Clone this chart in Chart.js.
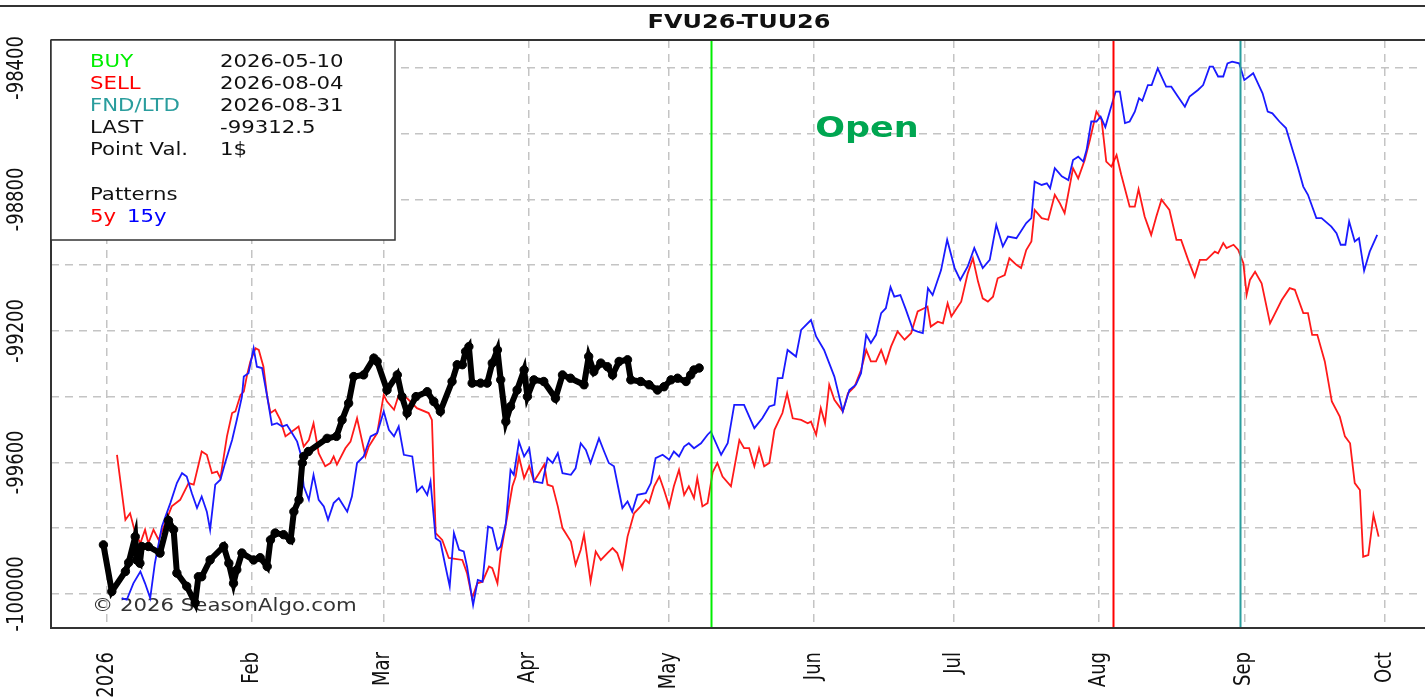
<!DOCTYPE html>
<html>
<head>
<meta charset="utf-8">
<script src="https://cdn.jsdelivr.net/npm/chart.js@4"></script>
<style>
  html, body { margin: 0; padding: 0; background: #fff; }
  #wrap { width: 1425px; height: 699px; }
</style>
</head>
<body>
<div id="wrap"><canvas id="seasonChart" width="1425" height="699"></canvas></div>
<script>
// x values are days counted from 2026-01-01
const monthDays = [0, 31, 59, 90, 120, 151, 181, 212, 243, 273];
const monthLabels = ['2026', 'Feb', 'Mar', 'Apr', 'May', 'Jun', 'Jul', 'Aug', 'Sep', 'Oct'];
const yTickValues = [-100000, -99800, -99600, -99400, -99200, -99000, -98800, -98600, -98400];

const eventDays = [129, 215, 242];           // BUY 05-10, SELL 08-04, FND/LTD 08-31
const eventColors = ['#00ee00', '#ff0000', '#2a9d9d'];

const infoLabels = ['BUY', 'SELL', 'FND/LTD', 'LAST', 'Point Val.'];
const infoValues = ['2026-05-10', '2026-08-04', '2026-08-31', '-99312.5', '1$'];

// current year (black)
const curDays = [-0.8, 1, 3.9, 4.6, 6, 6.3, 7, 7.4, 8.8, 11.3, 13.1, 14.2, 14.9, 17, 18.8, 19.5, 20.2, 22, 24.9, 26,
  27, 27.7, 28.8, 31.3, 32.7, 34.2, 34.9, 35.9, 37.7, 39.2, 39.9, 41, 41.7, 42, 43, 47, 49, 50.2, 51.6, 52.7,
  54.8, 57, 57.7, 59.8, 62, 63, 64.1, 66, 68.4, 69.8, 71.2, 73.7, 74.8, 75.9, 76.6, 77.3, 78, 79.8, 81.2, 82.3,
  83.4, 84.1, 85.2, 86.2, 87.6, 89.1, 89.8, 91.2, 93.3, 95.8, 97.3, 99, 101.9, 102.9, 104, 105.5, 106.9, 108, 109.4, 111.2,
  111.9, 114, 115.8, 117.6, 119, 120.5, 121.9, 123.7, 124.7, 125.4, 126.5];
const curValues = [-99851, -99993, -99932, -99905, -99826, -99897, -99907, -99856, -99856, -99876, -99777, -99805, -99937, -99977, -100028, -99948, -99948, -99897, -99856, -99907,
  -99968, -99927, -99876, -99897, -99890, -99917, -99836, -99815, -99820, -99836, -99750, -99714, -99602, -99582, -99567, -99527, -99521, -99471, -99420, -99339,
  -99334, -99283, -99293, -99380, -99334, -99400, -99450, -99400, -99385, -99415, -99445, -99354, -99303, -99303, -99263, -99248, -99359, -99359, -99359, -99298,
  -99258, -99349, -99476, -99430, -99380, -99319, -99400, -99349, -99354, -99405, -99334, -99344, -99364, -99278, -99324, -99298, -99309, -99334, -99293, -99288,
  -99349, -99354, -99364, -99380, -99370, -99349, -99344, -99354, -99334, -99319, -99313];

// 5y pattern (red)
const p5Days = [2.1, 3.9, 4.9, 6, 7.1, 8.1, 8.8, 9.9, 11, 12.4, 13.8, 15.6, 17.4, 18.5, 20.2, 21.3, 22.4, 23.5, 24.2, 25.6,
  26.7, 27.4, 28.5, 29.2, 29.9, 30.6, 31.7, 32.4, 33.4, 34.2, 34.9, 35.9, 37, 38.1, 39.5, 40.9, 42, 43.1, 44.1, 45.2,
  46.6, 47.7, 48.4, 49.1, 50.9, 52, 53.4, 55.2, 55.9, 57.7, 59.1, 59.8, 61.3, 62.3, 64.1, 66.2, 68.7, 69.4, 70.2, 71.6,
  73, 75.9, 76.9, 78, 79.1, 80.2, 81.6, 82.3, 83.4, 84.1, 85.5, 86.6, 87.3, 88, 89.1, 90.2, 91.2, 92.3, 93.4, 94.1,
  95.2, 96.3, 97.3, 99.1, 100.1, 101.2, 101.9, 103.3, 104.4, 105.5, 106.9, 108, 109, 110.1, 111.2, 112.6, 114, 115.1, 115.8, 116.9,
  118, 119, 120.1, 121.1, 122.2, 123.3, 124.3, 125.4, 126.1, 127.2, 128.3, 129.4, 130.4, 131.5, 133.3, 135.1, 136.1, 137.2, 138.3, 139.3,
  140.4, 141.5, 142.6, 144.3, 145.3, 146.5, 148.3, 149.7, 150.4, 151.5, 152.5, 153.4, 154.3, 155.4, 157.2, 158.3, 159.7, 161.1, 162.2, 163.2,
  164.3, 165.4, 166.4, 167.5, 168.9, 170.4, 171.8, 173.2, 174.6, 175.3, 176, 177.5, 178.6, 179.6, 180.4, 181.8, 182.5, 183.9, 185, 186.1,
  187.1, 188.2, 189.3, 190.3, 191.8, 192.8, 194.3, 195.3, 196.4, 197.5, 198.2, 199.7, 201.1, 202.5, 203.6, 204.6, 206.4, 207.5, 208.9, 210,
  211.4, 212.5, 213.5, 214.6, 215.7, 216.7, 218.5, 219.6, 220.4, 221.7, 223.1, 224.2, 225.3, 227, 228.5, 229.5, 231, 232.4, 233.5, 234.9,
  236.7, 237.4, 238.5, 239.2, 240.7, 241.7, 242.8, 243.5, 244.2, 245.3, 246.7, 248.5, 251, 252.7, 253.8, 255.6, 256.6, 257.5, 258.6, 260.2,
  261.7, 263.4, 264.5, 265.6, 266.6, 267.7, 268.4, 269.5, 270.6, 271.7];
const p5Values = [-99577, -99775, -99755, -99815, -99846, -99805, -99846, -99805, -99836, -99785, -99734, -99714, -99663, -99668, -99567, -99577, -99633, -99628, -99648, -99521,
  -99450, -99445, -99395, -99385, -99334, -99293, -99253, -99258, -99309, -99400, -99450, -99440, -99471, -99521, -99506, -99491, -99552, -99532, -99481, -99572,
  -99612, -99602, -99582, -99607, -99557, -99537, -99466, -99582, -99552, -99511, -99395, -99415, -99440, -99395, -99405, -99435, -99450, -99471, -99815, -99836,
  -99891, -99897, -99937, -100013, -99968, -99963, -99917, -99922, -99968, -99876, -99764, -99673, -99643, -99582, -99648, -99612, -99658, -99633, -99607, -99668,
  -99673, -99734, -99800, -99841, -99912, -99866, -99820, -99963, -99871, -99897, -99876, -99861, -99876, -99922, -99826, -99755, -99734, -99714, -99724, -99673,
  -99643, -99684, -99734, -99673, -99623, -99699, -99673, -99709, -99648, -99734, -99724, -99630, -99602, -99643, -99673, -99532, -99557, -99557, -99612, -99557,
  -99612, -99602, -99501, -99450, -99390, -99466, -99471, -99481, -99476, -99516, -99435, -99481, -99364, -99410, -99445, -99390, -99370, -99319, -99258, -99293,
  -99293, -99258, -99298, -99248, -99202, -99227, -99207, -99141, -99131, -99126, -99187, -99172, -99177, -99116, -99156, -99126, -99111, -99025, -98979, -99050,
  -99101, -99111, -99096, -99040, -99030, -98979, -98999, -99009, -98954, -98928, -98832, -98857, -98862, -98786, -98812, -98842, -98705, -98736, -98680, -98619,
  -98533, -98558, -98685, -98700, -98665, -98725, -98822, -98822, -98769, -98852, -98908, -98852, -98801, -98832, -98923, -98923, -98984, -99035, -98984, -98984,
  -98959, -98964, -98933, -98948, -98938, -98954, -98994, -99090, -99045, -99020, -99055, -99177, -99106, -99070, -99075, -99146, -99146, -99212, -99212, -99293,
  -99415, -99461, -99521, -99542, -99663, -99684, -99887, -99882, -99760, -99826];

// 15y pattern (blue)
const p15Days = [3.1, 4.2, 5.6, 7.1, 8.1, 9.2, 10.2, 11.7, 13.5, 14.9, 16, 17, 18.1, 19.2, 20.2, 21.3, 22, 23.1, 24.2, 25.2,
  26.7, 27.7, 28.8, 29.2, 30.2, 31.3, 32, 33.1, 34.2, 35.2, 36.3, 37.4, 38.4, 39.5, 40.6, 41.3, 42, 43.1, 44.1, 45.2,
  46.3, 47.2, 48.4, 49.5, 51.3, 52.3, 53.4, 54.8, 56.3, 57.7, 59.1, 60.2, 61.3, 62.3, 63.4, 65.2, 66.2, 67.3, 68.4, 69.1,
  70.2, 71.2, 72.3, 73.2, 74.1, 75.2, 76.2, 76.9, 78.2, 79.2, 80.2, 81.4, 82.3, 83.4, 84.1, 85.2, 86.2, 86.9, 88, 89.1,
  90.2, 91.2, 93, 94.1, 95.2, 96.3, 97.3, 99.1, 100.1, 101.2, 102.3, 103.3, 105.1, 106.2, 107.2, 108.3, 110.1, 111.2, 112.2, 113.3,
  115.1, 116.2, 117.2, 118.7, 120.1, 121.1, 122.2, 123.3, 124.3, 125.4, 126.9, 128.3, 129, 131.2, 132.6, 134, 136.1, 138.3, 140, 141.5,
  142.6, 143.3, 144.3, 145.4, 147.2, 148.3, 150.4, 151.5, 153.2, 155.4, 157.2, 158.6, 160, 161.1, 162.2, 163.2, 164.3, 165.4, 166.4, 167.4,
  168.2, 169.5, 170.7, 172.2, 173.2, 174.3, 175.4, 176.4, 178.2, 179.5, 181.1, 182.3, 183.9, 185.3, 187.1, 188.6, 190, 191.4, 192.5, 194.3,
  196.4, 197.5, 198.2, 199.7, 200.8, 201.5, 202.5, 204, 205.4, 206.4, 207.5, 208.6, 209.3, 210.3, 211.4, 212.3, 213.3, 214.4, 215.5, 216.4,
  217.5, 218.5, 219.6, 220.5, 221.2, 222.4, 223.2, 224.5, 226.3, 227.4, 228.8, 230.3, 231.3, 233.1, 234.2, 235.6, 236.3, 237.4, 238.5, 239.4,
  240.4, 241.9, 243, 244.9, 246.9, 248, 249, 250.5, 251.9, 253.3, 254.4, 255.6, 256.6, 258.4, 259.5, 261.6, 262.7, 263.6, 264.6, 265.4,
  266.6, 267.5, 268.6, 269.8, 271.4];
const p15Values = [-100013, -100018, -99968, -99932, -99968, -100013, -99907, -99795, -99724, -99663, -99633, -99643, -99694, -99739, -99704, -99750, -99805, -99668, -99653, -99602,
  -99532, -99471, -99400, -99339, -99329, -99253, -99309, -99313, -99400, -99486, -99481, -99491, -99486, -99511, -99537, -99572, -99673, -99714, -99638, -99714,
  -99734, -99775, -99724, -99709, -99750, -99704, -99602, -99582, -99521, -99511, -99445, -99501, -99521, -99491, -99577, -99582, -99689, -99673, -99699, -99658,
  -99831, -99841, -99917, -99977, -99815, -99866, -99871, -99917, -100034, -99958, -99963, -99795, -99800, -99866, -99856, -99785, -99623, -99638, -99537, -99582,
  -99557, -99658, -99663, -99587, -99602, -99572, -99633, -99638, -99618, -99542, -99562, -99602, -99527, -99567, -99602, -99612, -99739, -99719, -99750, -99699,
  -99694, -99663, -99587, -99577, -99592, -99567, -99582, -99552, -99542, -99557, -99542, -99516, -99506, -99577, -99542, -99425, -99425, -99496, -99466, -99430,
  -99425, -99344, -99344, -99258, -99278, -99197, -99167, -99217, -99258, -99339, -99445, -99380, -99364, -99329, -99212, -99237, -99212, -99146, -99131, -99067,
  -99096, -99091, -99136, -99197, -99202, -99207, -99070, -99091, -99015, -98923, -99009, -99045, -99004, -98948, -99009, -98984, -98877, -98943, -98913, -98918,
  -98872, -98857, -98746, -98756, -98751, -98766, -98705, -98730, -98741, -98680, -98670, -98685, -98649, -98563, -98563, -98548, -98580, -98525, -98472, -98472,
  -98568, -98563, -98533, -98492, -98500, -98452, -98452, -98401, -98457, -98457, -98487, -98518, -98487, -98467, -98452, -98396, -98396, -98426, -98426, -98386,
  -98381, -98386, -98437, -98416, -98477, -98533, -98538, -98563, -98583, -98649, -98700, -98761, -98786, -98857, -98857, -98883, -98903, -98938, -98938, -98867,
  -98928, -98918, -99017, -98959, -98908];

const toPoints = (xs, ys) => xs.map((d, i) => ({ x: d, y: ys[i] }));

const FONT = 'DejaVu Sans';
const STRETCH = 1.25;   // reference text is widened horizontally

function wideText(ctx, text, x, y, opts) {
  ctx.save();
  ctx.translate(x, y);
  ctx.scale(opts.stretch || STRETCH, 1);
  if (opts.rotate) ctx.rotate(-Math.PI / 2);
  ctx.font = opts.font;
  ctx.fillStyle = opts.color || '#111';
  ctx.textAlign = opts.align || 'left';
  ctx.textBaseline = opts.baseline || 'middle';
  ctx.fillText(text, 0, 0);
  ctx.restore();
}

const decorations = {
  id: 'decorations',
  beforeDraw(chart) {
    const ctx = chart.ctx;
    ctx.save();
    ctx.fillStyle = '#fff';
    ctx.fillRect(0, 0, chart.width, chart.height);
    ctx.restore();
  },
  beforeDatasetsDraw(chart) {
    const ctx = chart.ctx;
    wideText(ctx, '\u00a9 2026 SeasonAlgo.com', 92, 607, { font: '17px ' + FONT, color: '#333' });
  },
  afterDatasetsDraw(chart) {
    const ctx = chart.ctx;
    const area = chart.chartArea;
    const xs = chart.scales.x, ys = chart.scales.y;

    // buy / sell / fnd vertical markers
    eventDays.forEach((d, i) => {
      const px = Math.round(xs.getPixelForValue(d)) + 0.5;
      ctx.save();
      ctx.strokeStyle = eventColors[i];
      ctx.lineWidth = 2;
      ctx.beginPath();
      ctx.moveTo(px, area.top);
      ctx.lineTo(px, area.bottom);
      ctx.stroke();
      ctx.restore();
    });

    // plot frame + outer top line
    ctx.save();
    ctx.strokeStyle = '#333';
    ctx.lineWidth = 2;
    ctx.beginPath();
    ctx.moveTo(area.left, area.top);
    ctx.lineTo(chart.width + 5, area.top);
    ctx.moveTo(area.left, area.top);
    ctx.lineTo(area.left, area.bottom);
    ctx.lineTo(chart.width + 5, area.bottom);
    ctx.moveTo(0, 6);
    ctx.lineTo(chart.width, 6);
    ctx.stroke();
    ctx.restore();

    // axis labels
    yTickValues.forEach(v => {
      if (v % 400 !== 0) return;
      wideText(ctx, String(v), 17, ys.getPixelForValue(v), { font: '18px ' + FONT, rotate: true, align: 'center' });
    });
    monthDays.forEach((d, i) => {
      wideText(ctx, monthLabels[i], xs.getPixelForValue(d), 652, { font: '18px ' + FONT, rotate: true, align: 'right' });
    });

    // title
    wideText(ctx, 'FVU26-TUU26', 739, 23, { font: 'bold 20px ' + FONT, color: '#111', align: 'center', stretch: 1.2 });

    // info box
    ctx.save();
    ctx.fillStyle = '#fff';
    ctx.strokeStyle = '#333';
    ctx.lineWidth = 1.5;
    ctx.fillRect(area.left, area.top, 344, 200);
    ctx.strokeRect(area.left, area.top, 344, 200);
    ctx.restore();
    const rowColors = ['#00ee00', '#ff0000', '#2a9d9d', '#111', '#111'];
    infoLabels.forEach((lab, i) => {
      const y = 63 + i * 22;
      wideText(ctx, lab, 90, y, { font: '17px ' + FONT, color: rowColors[i] });
      wideText(ctx, infoValues[i], 220, y, { font: '17px ' + FONT, color: '#111' });
    });
    wideText(ctx, 'Patterns', 90, 196, { font: '17px ' + FONT, color: '#111' });
    wideText(ctx, '5y', 90, 218, { font: '17px ' + FONT, color: '#ff0000' });
    wideText(ctx, '15y', 127, 218, { font: '17px ' + FONT, color: '#0000ff' });

    // "Open" status
    wideText(ctx, 'Open', 867, 130, { font: 'bold 28px ' + FONT, color: '#00a651', align: 'center' });
  }
};

const ctx = document.getElementById('seasonChart').getContext('2d');

new Chart(ctx, {
  type: 'line',
  data: {
    datasets: [
      {
        label: '5y',
        data: toPoints(p5Days, p5Values),
        borderColor: '#ff1a1a',
        borderWidth: 1.8,
        pointRadius: 0,
        tension: 0,
        order: 3
      },
      {
        label: '15y',
        data: toPoints(p15Days, p15Values),
        borderColor: '#1a1aff',
        borderWidth: 1.8,
        pointRadius: 0,
        tension: 0,
        order: 2
      },
      {
        label: 'FVU26-TUU26',
        data: toPoints(curDays, curValues),
        borderColor: '#000',
        borderWidth: 6,
        pointRadius: 4.2,
        pointBackgroundColor: '#000',
        pointBorderColor: '#000',
        pointBorderWidth: 1,
        tension: 0,
        order: 1
      }
    ]
  },
  options: {
    responsive: false,
    animation: false,
    events: [],
    layout: { padding: { left: 51, top: 40, right: 1, bottom: 71 } },
    plugins: {
      legend: { display: false },
      tooltip: { enabled: false },
      title: { display: false }
    },
    scales: {
      x: {
        type: 'linear',
        min: -12,
        max: 280.5,
        afterBuildTicks: scale => { scale.ticks = monthDays.map(v => ({ value: v })); },
        ticks: { display: false },
        grid: { color: '#c4c4c4', lineWidth: 1.5, drawTicks: false },
        border: { display: false, dash: [8, 6] }
      },
      y: {
        min: -100104,
        max: -98315,
        afterBuildTicks: scale => { scale.ticks = yTickValues.map(v => ({ value: v })); },
        ticks: { display: false },
        grid: { color: '#c4c4c4', lineWidth: 1.5, drawTicks: false },
        border: { display: false, dash: [8, 6] }
      }
    }
  },
  plugins: [decorations]
});
</script>
</body>
</html>
